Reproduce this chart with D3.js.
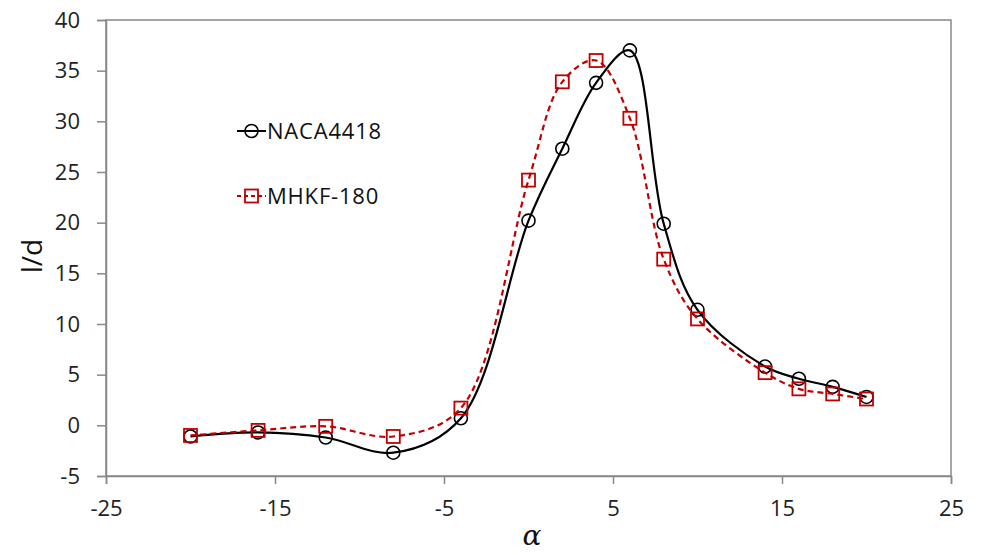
<!DOCTYPE html>
<html>
<head>
<meta charset="utf-8">
<script src="https://cdn.jsdelivr.net/npm/d3@7"></script>
<style>
  body { margin: 0; background: #fff; }
  text { font-family: "Open Sans", "Noto Sans", sans-serif; }
</style>
</head>
<body>
<div id="canvas"></div>
<script>
// angle of attack
const alpha = [-20, -16, -12, -8, -4, 0, 2, 4, 6, 8, 10, 14, 16, 18, 20];
// lift to drag ratio
const naca4418 = [-1.1, -0.7, -1.2, -2.7, 0.7, 20.2, 27.3, 33.8, 37.0, 19.9, 11.4, 5.8, 4.6, 3.8, 2.8];
const mhkf180 = [-1.0, -0.5, -0.1, -1.1, 1.7, 24.2, 33.9, 36.0, 30.3, 16.4, 10.5, 5.2, 3.6, 3.1, 2.6];
const xTicks = [-25, -15, -5, 5, 15, 25];
const yTicks = [-5, 0, 5, 10, 15, 20, 25, 30, 35, 40];

const width = 986;
const height = 555;
const margin = { top: 20, left: 106, bottom: 79, right: 35 };
const iwidth = width - margin.left - margin.right;
const iheight = height - margin.top - margin.bottom;

const svg = d3.select("#canvas").append("svg")
  .attr("width", width)
  .attr("height", height);

const g = svg.append("g")
  .attr("transform", `translate(${margin.left},${margin.top})`);

const x = d3.scaleLinear().domain([-25, 25]).range([0, iwidth]);
const y = d3.scaleLinear().domain([-5, 40]).range([iheight, 0]);

const axisColor = "#888";
const fmt = (d) => String(d); // plain hyphen for negatives

// frame
g.append("rect")
  .attr("width", iwidth)
  .attr("height", iheight)
  .attr("fill", "none")
  .attr("stroke", axisColor)
  .attr("stroke-width", 1.5);

const xAxis = g.append("g")
  .attr("transform", `translate(0,${iheight})`)
  .call(d3.axisBottom(x).tickValues(xTicks).tickSize(8).tickPadding(16).tickFormat(fmt));

const yAxis = g.append("g")
  .call(d3.axisLeft(y).tickValues(yTicks).tickSize(9).tickPadding(17).tickFormat(fmt));

[xAxis, yAxis].forEach((a) => {
  a.select(".domain").attr("stroke", axisColor).attr("stroke-width", 1.5);
  a.selectAll(".tick line").attr("stroke", axisColor).attr("stroke-width", 1.5);
  a.selectAll(".tick text")
    .attr("fill", "#222")
    .style("font-size", "22px")
    .style("font-family", "'Open Sans', 'Noto Sans', sans-serif");
});

const series = [
  { name: "NACA4418", values: naca4418, color: "#000", dash: null, marker: "circle" },
  { name: "MHKF-180", values: mhkf180, color: "#c00000", dash: "6,4", marker: "square" },
];

const line = d3.line()
  .x((d) => x(d[0]))
  .y((d) => y(d[1]))
  .curve(d3.curveCatmullRom.alpha(0.5));

function drawMarker(sel, s, cx, cy) {
  if (s.marker === "circle") {
    sel.append("circle")
      .attr("cx", cx).attr("cy", cy).attr("r", 6.5)
      .attr("fill", "none").attr("stroke", s.color).attr("stroke-width", 1.6);
  } else {
    sel.append("rect")
      .attr("x", cx - 6.5).attr("y", cy - 6.5)
      .attr("width", 13).attr("height", 13)
      .attr("fill", "none").attr("stroke", s.color).attr("stroke-width", 1.8);
  }
}

series.forEach((s) => {
  const pts = alpha.map((a, i) => [a, s.values[i]]);
  g.append("path")
    .datum(pts)
    .attr("fill", "none")
    .attr("stroke", s.color)
    .attr("stroke-width", 2.2)
    .attr("stroke-dasharray", s.dash)
    .attr("d", line);
  const mg = g.append("g");
  pts.forEach((p) => drawMarker(mg, s, x(p[0]), y(p[1])));
});

// legend
series.forEach((s, i) => {
  const ly = 131 + i * 65;
  const lg = svg.append("g");
  lg.append("line")
    .attr("x1", 237).attr("x2", 266)
    .attr("y1", ly).attr("y2", ly)
    .attr("stroke", s.color).attr("stroke-width", 2)
    .attr("stroke-dasharray", s.dash ? "4,3" : null);
  drawMarker(lg, s, 251.5, ly);
  lg.append("text")
    .attr("x", 267).attr("y", ly + 7.5)
    .style("font-size", "22px")
    .style("letter-spacing", "0.8px")
    .attr("fill", "#111")
    .text(s.name);
});

// axis titles
svg.append("text")
  .attr("transform", "translate(42,256) rotate(-90)")
  .attr("text-anchor", "middle")
  .style("font-size", "28px")
  .attr("fill", "#111")
  .text("l/d");

svg.append("text")
  .attr("x", 532).attr("y", 545)
  .attr("text-anchor", "middle")
  .style("font-size", "28px")
  .style("font-style", "italic")
  .style("font-family", "'DejaVu Serif', serif")
  .attr("fill", "#111")
  .text("α");
</script>
</body>
</html>
